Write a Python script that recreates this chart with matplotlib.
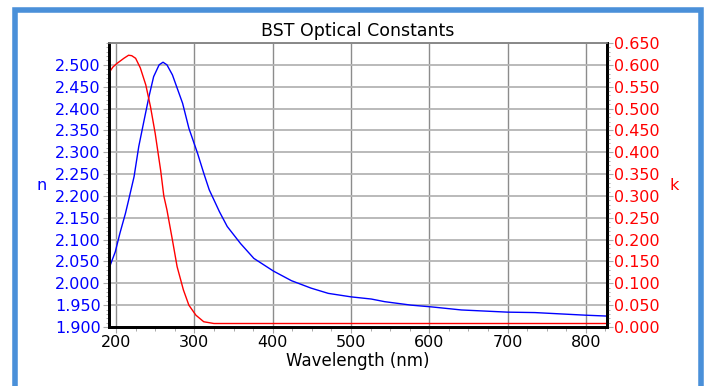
import numpy as np
import matplotlib.pyplot as plt
from matplotlib.patches import Rectangle
from matplotlib.ticker import MultipleLocator, FormatStrFormatter

plt.rcParams['font.family'] = ['DejaVu Sans']

# refractive index n (blue, left axis)
wl_n = [191, 199, 205, 212, 216, 223, 229, 235, 242, 248, 255, 260, 265, 272,
        278, 285, 293, 304, 312, 319, 325, 332, 342, 359, 376, 401, 424, 449,
        471, 500, 526, 543, 577, 603, 641, 700, 735, 800, 827]
n_vals = [2.034, 2.072, 2.115, 2.160, 2.190, 2.244, 2.313, 2.366, 2.427, 2.473,
          2.500, 2.506, 2.500, 2.477, 2.447, 2.412, 2.355, 2.298, 2.252, 2.214,
          2.191, 2.164, 2.130, 2.091, 2.057, 2.028, 2.006, 1.989, 1.977, 1.969,
          1.964, 1.958, 1.950, 1.946, 1.939, 1.934, 1.933, 1.927, 1.925]

# extinction coefficient k (red, right axis)
wl_k = [191, 196, 201, 210, 216, 220, 225, 231, 238, 244, 250, 257, 261, 265,
        272, 278, 286, 293, 302, 312, 325, 400, 500, 600, 700, 827]
k_vals = [0.582, 0.595, 0.603, 0.615, 0.622, 0.621, 0.615, 0.593, 0.554, 0.504,
          0.443, 0.358, 0.300, 0.268, 0.199, 0.138, 0.085, 0.050, 0.027, 0.012,
          0.008, 0.008, 0.008, 0.008, 0.008, 0.008]

n_ticks = [1.90, 1.95, 2.00, 2.05, 2.10, 2.15, 2.20, 2.25, 2.30, 2.35, 2.40, 2.45, 2.50]

fig = plt.figure(figsize=(7.06, 3.86), dpi=100)

# blue frame around the chart
fig.patches.append(Rectangle((14.5 / 706, -0.1), (701 - 14.5) / 706, 1.1 - 9.5 / 386,
                             transform=fig.transFigure, fill=False,
                             edgecolor="#4a90d9", linewidth=4))

ax = fig.add_axes([109 / 706, 1 - 327 / 386, 498 / 706, 284 / 386])
ax2 = ax.twinx()

ax.set_xlim(191, 827)
ax.set_ylim(1.9, 2.55)
ax2.set_ylim(0, 0.65)

ax.xaxis.set_major_locator(MultipleLocator(100))
ax.xaxis.set_minor_locator(MultipleLocator(25))
ax.set_yticks(n_ticks)
ax.yaxis.set_minor_locator(MultipleLocator(0.01))
ax2.yaxis.set_major_locator(MultipleLocator(0.05))
ax2.yaxis.set_minor_locator(MultipleLocator(0.01))
ax.yaxis.set_major_formatter(FormatStrFormatter("%.3f"))
ax2.yaxis.set_major_formatter(FormatStrFormatter("%.3f"))

ax.grid(axis="x", color="#8c8c8c", linewidth=1.0)
ax.grid(axis="y", color="#b4b4b4", linewidth=1.3)
ax.axhline(2.55, color="#b4b4b4", linewidth=1.3)
ax.set_axisbelow(True)

ax2.plot(wl_k, k_vals, color="#ff0000", linewidth=1.0)
ax.plot(wl_n, n_vals, color="#0000ff", linewidth=1.0)

fs = 11.5
tick_col = "#aaaaaa"
ax.tick_params(axis="y", labelcolor="#0000ff", labelsize=fs, length=4, width=0.8,
               color=tick_col, pad=2)
ax.tick_params(axis="y", which="minor", length=2.5, width=0.7, color=tick_col)
ax.tick_params(axis="x", labelsize=fs, length=4, width=0.8, color=tick_col, pad=2)
ax.tick_params(axis="x", which="minor", length=3, width=0.7, color=tick_col)
ax2.tick_params(axis="y", labelcolor="#ff0000", labelsize=fs, length=4, width=0.8,
                color=tick_col, pad=1)
ax2.tick_params(axis="y", which="minor", length=2.5, width=0.7, color=tick_col)

for a in (ax, ax2):
    a.spines["left"].set_linewidth(2)
    a.spines["bottom"].set_linewidth(2)
    a.spines["right"].set_linewidth(2)
    a.spines["top"].set_color("#888888")
    a.spines["top"].set_linewidth(1.2)

ax.set_xlabel("Wavelength (nm)", fontsize=12, labelpad=1)
ax.set_ylabel("n", fontsize=fs, color="#0000ff", rotation=0, va="center", ha="center")
ax.yaxis.set_label_coords(-0.135, 0.5)
ax2.set_ylabel("k", fontsize=fs, color="#ff0000", rotation=0, va="center", ha="center")
ax2.yaxis.set_label_coords(1.135, 0.5)
ax.set_title("BST Optical Constants", fontsize=12.5, pad=5)

plt.savefig("out.png", dpi=100)
